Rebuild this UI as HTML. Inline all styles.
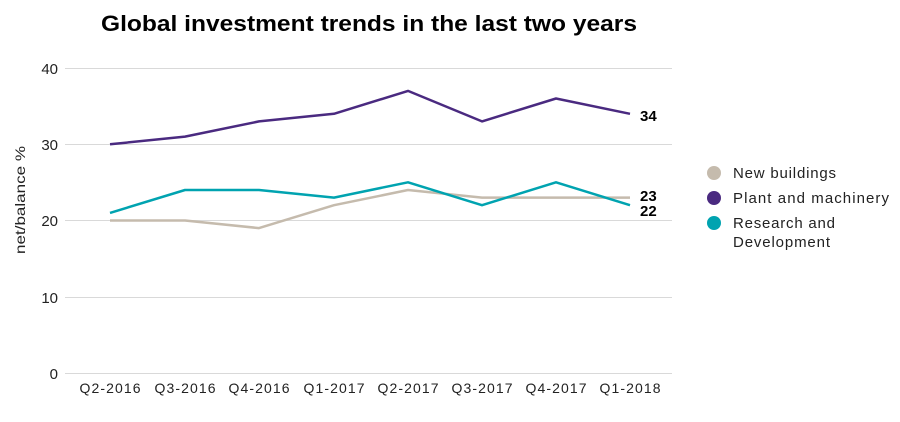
<!DOCTYPE html>
<html><head><meta charset="utf-8"><style>
html,body{margin:0;padding:0;background:#fff;width:900px;height:422px;overflow:hidden}
svg{display:block;font-family:"Liberation Sans",sans-serif}
</style></head><body>
<svg width="900" height="422" viewBox="0 0 900 422">
<text x="369" y="31" text-anchor="middle" font-size="22" font-weight="bold" fill="#000" textLength="536" lengthAdjust="spacingAndGlyphs">Global investment trends in the last two years</text>
<g stroke="#d9d9d9" stroke-width="1">
<line x1="65" x2="672" y1="68.5" y2="68.5"/>
<line x1="65" x2="672" y1="144.5" y2="144.5"/>
<line x1="65" x2="672" y1="220.5" y2="220.5"/>
<line x1="65" x2="672" y1="297.5" y2="297.5"/>
<line x1="65" x2="672" y1="373.5" y2="373.5"/>
</g>
<g font-size="15" fill="#222" text-anchor="end">
<text x="58" y="74">40</text><text x="58" y="150">30</text><text x="58" y="226">20</text><text x="58" y="303">10</text><text x="58" y="379">0</text>
</g>
<text transform="translate(25,200) rotate(-90)" text-anchor="middle" font-size="14" fill="#222" textLength="108" lengthAdjust="spacingAndGlyphs">net/balance %</text>
<g font-size="14" fill="#222" text-anchor="middle" lengthAdjust="spacingAndGlyphs">
<text x="110" y="393" textLength="61">Q2-2016</text><text x="185" y="393" textLength="61">Q3-2016</text><text x="259" y="393" textLength="61">Q4-2016</text><text x="334" y="393" textLength="61">Q1-2017</text><text x="408" y="393" textLength="61">Q2-2017</text><text x="482" y="393" textLength="61">Q3-2017</text><text x="556" y="393" textLength="61">Q4-2017</text><text x="630" y="393" textLength="61">Q1-2018</text>
</g>
<g fill="none" stroke-width="2.5" stroke-linejoin="round">
<polyline stroke="#c5bbad" points="110,220.5 185,220.5 259,228.1 334,205.2 408,190 482,197.6 556,197.6 630,197.6"/>
<polyline stroke="#00a3b0" points="110,212.9 185,190 259,190 334,197.6 408,182.3 482,205.2 556,182.3 630,205.2"/>
<polyline stroke="#4a2a80" points="110,144.3 185,136.6 259,121.4 334,113.8 408,90.9 482,121.4 556,98.5 630,113.8"/>
</g>
<g font-size="15" font-weight="bold" fill="#000">
<text x="640" y="121">34</text><text x="640" y="201">23</text><text x="640" y="216">22</text>
</g>
<circle cx="714" cy="173" r="7" fill="#c5bbad"/>
<circle cx="714" cy="198" r="7" fill="#4a2a80"/>
<circle cx="714" cy="223" r="7" fill="#00a3b0"/>
<g font-size="15" fill="#222" lengthAdjust="spacingAndGlyphs">
<text x="733" y="178" textLength="103">New buildings</text>
<text x="733" y="203" textLength="156">Plant and machinery</text>
<text x="733" y="228" textLength="102">Research and</text>
<text x="733" y="247" textLength="97">Development</text>
</g>
</svg>
</body></html>
